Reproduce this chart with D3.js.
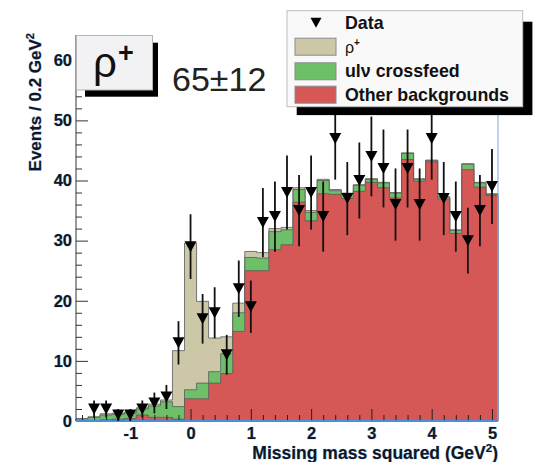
<!DOCTYPE html>
<html>
<head>
<meta charset="utf-8">
<script src="https://cdn.jsdelivr.net/npm/d3@7"></script>
<style>
  body { margin: 0; background: #fff; }
  svg { display: block; font-family: "Liberation Sans", Arial, Helvetica, sans-serif; }
</style>
</head>
<body>
<svg id="chart" width="533" height="462"></svg>
<script>
// Missing mass squared, 0.2 GeV^2 bins
const binCenters = [-1.8, -1.6, -1.4, -1.2, -1.0, -0.8, -0.6, -0.4, -0.2, 0.0,
                    0.2, 0.4, 0.6, 0.8, 1.0, 1.2, 1.4, 1.6, 1.8, 2.0,
                    2.2, 2.4, 2.6, 2.8, 3.0, 3.2, 3.4, 3.6, 3.8, 4.0,
                    4.2, 4.4, 4.6, 4.8, 5.0];
const binWidth = 0.2;

// Stacked expectations (events / bin)
const otherBackgrounds = [0.05, 0.1, 0.2, 0.3, 0.4, 1.0, 0.6, 0.6, 0.3, 3.7,
                          3.7, 6.3, 7.9, 14.9, 25.0, 25.0, 28.5, 29.3, 36.4, 33.3,
                          37.8, 37.7, 37.0, 38.2, 39.7, 38.8, 37.1, 43.5, 39.9, 43.1,
                          36.9, 31.2, 41.8, 38.9, 37.5];
const crossfeed = [0.3, 0.5, 0.8, 0.8, 0.9, 1.0, 1.9, 2.6, 2.1, 1.5,
                   2.6, 1.9, 3.3, 3.1, 2.2, 2.1, 3.0, 2.5, 2.1, 1.4,
                   2.2, 0.6, 0.8, 1.0, 0.5, 0.8, 0.8, 1.0, 0.3, 0.2,
                   0.3, 0.5, 0.9, 0.7, 0.2];
const rhoSignal = [0.05, 0.1, 0.2, 0.2, 0.2, 0.2, 0.3, 0.3, 9.3, 24.4,
                   13.6, 5.6, 2.8, 1.6, 1.0, 0.9, 0.5, 0.4, 0.3, 0.3,
                   0.2, 0.2, 0.1, 0.1, 0.1, 0.1, 0.1, 0.1, 0.1, 0.1,
                   0.1, 0.1, 0.1, 0.1, 0.1];

// Observed events per bin
const dataCounts = [0, 2, 2, 1, 1, 2, 3, 4, 13, 29,
                    17, 18, 11, 22, 19, 33, 34, 38, 35, 38,
                    34, 47, 37, 40, 44, 42, 36, 42, 36, 47,
                    37, 34, 30, 35, 39];

const xTickValues = [-1, 0, 1, 2, 3, 4, 5];
const yTickValues = [0, 10, 20, 30, 40, 50, 60];

const colors = { rho: "#ccc8a7", crossfeed: "#6dbf68", other: "#d55856", outline: "#5a5a5a" };

const svg = d3.select("#chart");
const plot = { left: 76, right: 498, top: 35, bottom: 421 };

const x = d3.scaleLinear().domain([-1.9, 5.1]).range([plot.left, plot.right]);
const y = d3.scaleLinear().domain([0, 64.2]).range([plot.bottom, plot.top]);

// cumulative stack layers
const layerOther = otherBackgrounds;
const layerCross = otherBackgrounds.map((v, i) => v + crossfeed[i]);
const layerTotal = layerCross.map((v, i) => v + rhoSignal[i]);

function stepPoints(vals) {
  const pts = vals.map((v, i) => [binCenters[i] - binWidth / 2, v]);
  pts.push([binCenters[vals.length - 1] + binWidth / 2, vals[vals.length - 1]]);
  return pts;
}
const area = d3.area()
  .x(d => x(d[0]))
  .y0(y(0))
  .y1(d => y(d[1]))
  .curve(d3.curveStepAfter);

const g = svg.append("g");
[[layerTotal, colors.rho], [layerCross, colors.crossfeed], [layerOther, colors.other]]
  .forEach(([vals, fill]) => {
    g.append("path")
      .attr("d", area(stepPoints(vals)))
      .attr("fill", fill)
      .attr("stroke", colors.outline)
      .attr("stroke-width", 1)
      .attr("stroke-opacity", 0.8);
  });

// axis lines
svg.append("line").attr("x1", plot.left).attr("x2", plot.left)
  .attr("y1", plot.top).attr("y2", plot.bottom)
  .attr("stroke", "#555").attr("stroke-width", 1.2);
svg.append("line").attr("x1", plot.right).attr("x2", plot.right)
  .attr("y1", plot.top).attr("y2", plot.bottom)
  .attr("stroke", "#8db8e4").attr("stroke-width", 1.2);

const labelStyle = sel => sel
  .attr("fill", "#0e1727")
  .attr("font-weight", "bold")
  .attr("stroke", "#3f82c8")
  .attr("stroke-width", 0.7)
  .attr("stroke-opacity", 0.55)
  .attr("paint-order", "stroke");

// x axis: minor then major ticks drawn inward
const xMinor = d3.range(-18, 51, 2).map(v => v / 10).filter(v => Math.abs(v - Math.round(v)) > 1e-6);
svg.append("g").attr("transform", `translate(0,${plot.bottom})`)
  .call(d3.axisBottom(x).tickValues(xMinor).tickSize(-6).tickFormat(""))
  .call(a => a.select(".domain").remove())
  .call(a => a.selectAll("line").attr("stroke", "#222").attr("stroke-width", 1));
svg.append("g").attr("transform", `translate(0,${plot.bottom})`)
  .call(d3.axisBottom(x).tickValues(xTickValues).tickSize(-12).tickPadding(6).tickFormat(d3.format("d")))
  .call(a => a.select(".domain").remove())
  .call(a => a.selectAll("line").attr("stroke", "#222").attr("stroke-width", 1))
  .call(a => a.selectAll("text").attr("font-size", 16.5).attr("font-family", null).call(labelStyle)
    .text(d => d < 0 ? "-" + Math.abs(d) : d));

// y axis
const yMinor = d3.range(2, 64, 2).filter(v => v % 10 !== 0);
svg.append("g").attr("transform", `translate(${plot.left},0)`)
  .call(d3.axisLeft(y).tickValues(yMinor).tickSize(-6).tickFormat(""))
  .call(a => a.select(".domain").remove())
  .call(a => a.selectAll("line").attr("stroke", "#333").attr("stroke-width", 1));
svg.append("g").attr("transform", `translate(${plot.left},0)`)
  .call(d3.axisLeft(y).tickValues(yTickValues).tickSize(-12).tickPadding(4).tickFormat(d3.format("d")))
  .call(a => a.select(".domain").remove())
  .call(a => a.selectAll("line").attr("stroke", "#333").attr("stroke-width", 1))
  .call(a => a.selectAll("text").attr("font-size", 16.5).attr("font-family", null).call(labelStyle));

svg.append("line").attr("x1", plot.left).attr("x2", plot.right)
  .attr("y1", plot.bottom).attr("y2", plot.bottom)
  .attr("stroke", "#4a90d8").attr("stroke-width", 2);

// data points with Poisson error bars
const tri = "M-6,-5.5L6,-5.5L0,5.5Z";
const pts = binCenters.map((c, i) => ({ c, n: dataCounts[i] })).filter(d => d.n > 0);
const dg = svg.append("g");
dg.selectAll("line.err").data(pts).join("line")
  .attr("x1", d => x(d.c)).attr("x2", d => x(d.c))
  .attr("y1", d => y(d.n - Math.sqrt(d.n))).attr("y2", d => y(d.n + Math.sqrt(d.n)))
  .attr("stroke", "#111").attr("stroke-width", 1.8);
dg.selectAll("path.mk").data(pts).join("path")
  .attr("d", tri)
  .attr("transform", d => `translate(${x(d.c)},${y(d.n)})`)
  .attr("fill", "#000");

// axis titles
svg.append("text")
  .attr("x", plot.right).attr("y", 459)
  .attr("text-anchor", "end").attr("font-size", 17.5)
  .call(labelStyle)
  .call(t => {
    t.append("tspan").text("Missing mass squared (GeV");
    t.append("tspan").attr("font-size", 11.5).attr("dy", -7).text("2");
    t.append("tspan").attr("dy", 7).text(")");
  });
svg.append("text")
  .attr("transform", "translate(41,33) rotate(-90)")
  .attr("text-anchor", "end").attr("font-size", 17)
  .call(labelStyle)
  .call(t => {
    t.append("tspan").text("Events / 0.2 GeV");
    t.append("tspan").attr("font-size", 11).attr("dy", -7).text("2");
  });

// signal label box
svg.append("rect").attr("x", 85).attr("y", 42.7).attr("width", 73).attr("height", 54).attr("fill", "#000");
svg.append("rect").attr("x", 76.5).attr("y", 35.5).attr("width", 76).attr("height", 54.5)
  .attr("fill", "#f2f2f4").attr("stroke", "#b5b5b8").attr("stroke-width", 1);
svg.append("text").attr("x", 93).attr("y", 77).attr("font-size", 42).attr("fill", "#111")
  .call(t => {
    t.append("tspan").text("ρ");
    t.append("tspan").attr("font-size", 27).attr("font-weight", "bold").attr("dy", -15).attr("dx", 1).text("+");
  });
svg.append("text").attr("x", 172).attr("y", 91).attr("font-size", 34).attr("fill", "#222").text("65±12");

// legend
const leg = { x: 287, y: 10.7, w: 235.7, h: 96 };
svg.append("rect").attr("x", leg.x + 9.7).attr("y", leg.y + 11).attr("width", leg.w).attr("height", leg.h - 2.6).attr("fill", "#000");
svg.append("rect").attr("x", leg.x).attr("y", leg.y).attr("width", leg.w).attr("height", leg.h)
  .attr("fill", "#f9f9fa").attr("stroke", "#bdbdc0").attr("stroke-width", 1);

const legendItems = [
  { label: "Data", kind: "marker" },
  { label: "ρ", sup: "+", kind: "box", fill: colors.rho, bold: false },
  { label: "ulν crossfeed", kind: "box", fill: colors.crossfeed, bold: true },
  { label: "Other backgrounds", kind: "box", fill: colors.other, bold: true }
];
const rowY = [22.7, 46.7, 71.3, 94.7];
legendItems.forEach((it, i) => {
  const cy = rowY[i];
  if (it.kind === "marker") {
    svg.append("path").attr("d", "M-5.5,-5L5.5,-5L0,5Z").attr("transform", `translate(316,${cy})`).attr("fill", "#000");
  } else {
    svg.append("rect").attr("x", 295).attr("y", cy - 8.5).attr("width", 41).attr("height", 17)
      .attr("fill", it.fill).attr("stroke", "#8a8a8a").attr("stroke-width", 1);
  }
  const t = svg.append("text").attr("x", 345).attr("y", cy + 6)
    .attr("font-size", it.kind === "marker" || it.bold ? 17.8 : 16)
    .attr("font-weight", it.kind === "marker" || it.bold ? "bold" : "normal")
    .attr("fill", "#111");
  t.append("tspan").text(it.label);
  if (it.sup) t.append("tspan").attr("font-size", 10).attr("font-weight", "bold").attr("dy", -7).text(it.sup);
});
</script>
</body>
</html>
